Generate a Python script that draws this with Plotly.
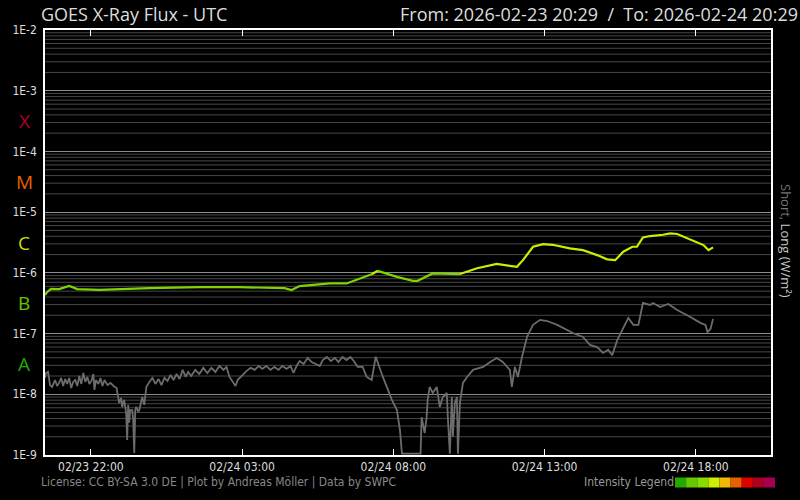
import math
import pandas as pd
import plotly.graph_objects as go

# ---------------- data ----------------
START = "2026-02-23 20:29"
END = "2026-02-24 20:29"

# Long channel (0.1-0.8 nm): minutes after START, flux W/m^2
long_minutes = [0, 4, 12, 28, 48, 64, 108, 207, 306, 386,
                475, 489, 505, 545, 565, 598, 630, 648, 660, 698,
                730, 739, 769, 823, 857, 896, 936, 948, 968, 988,
                1007, 1041, 1067, 1095, 1115, 1131, 1147, 1165, 1174, 1186,
                1200, 1226, 1240, 1254, 1280, 1306, 1316, 1325]
long_flux = [4.3e-7, 4.8e-7, 5.45e-7, 5.4e-7, 6.1e-7, 5.4e-7, 5.25e-7, 5.6e-7, 5.8e-7, 5.8e-7,
             5.6e-7, 5.2e-7, 6.05e-7, 6.5e-7, 6.7e-7, 6.7e-7, 8.5e-7, 9.5e-7, 1.08e-6, 8.6e-7,
             7.4e-7, 7.4e-7, 9.8e-7, 9.55e-7, 1.19e-6, 1.4e-6, 1.26e-6, 1.62e-6, 2.69e-6, 2.98e-6,
             2.9e-6, 2.53e-6, 2.37e-6, 1.96e-6, 1.67e-6, 1.62e-6, 2.23e-6, 2.69e-6, 2.69e-6, 3.84e-6,
             4.04e-6, 4.24e-6, 4.48e-6, 4.36e-6, 3.56e-6, 2.87e-6, 2.37e-6, 2.63e-6]

# Short channel (0.05-0.4 nm), in four stretches
short_minutes_a = [0, 2, 6, 10, 14, 20, 24, 28, 32, 36,
                   40, 44, 48, 52, 56, 60, 64, 68, 72, 76,
                   80, 84, 88, 92, 96, 98, 101, 106, 110, 114,
                   118, 124, 130, 136, 142]
short_flux_a = [1.86e-8, 2.24e-8, 2.33e-8, 1.42e-8, 1.32e-8, 1.72e-8, 1.37e-8, 1.54e-8, 1.86e-8, 1.37e-8,
                1.79e-8, 1.48e-8, 1.86e-8, 1.27e-8, 1.6e-8, 1.72e-8, 1.37e-8, 2.0e-8, 1.48e-8, 2.24e-8,
                1.6e-8, 1.93e-8, 1.48e-8, 1.66e-8, 2.16e-8, 1.18e-8, 1.72e-8, 1.48e-8, 1.86e-8, 1.37e-8,
                1.72e-8, 1.42e-8, 1.54e-8, 1.37e-8, 1.27e-8]

short_minutes_b = [147, 151, 153, 157, 161, 163, 165, 167, 169, 173,
                   175, 177, 179, 181, 185, 187, 191, 193, 197, 201]
short_flux_b = [7.2e-9, 8.7e-9, 6.2e-9, 8.1e-9, 4.9e-9, 1.77e-9, 6.7e-9, 3.4e-9, 5.5e-9, 5.5e-9,
                3.77e-9, 1.08e-9, 5.5e-9, 6.2e-9, 5.2e-9, 5.5e-9, 8.1e-9, 9.0e-9, 6.7e-9, 1.32e-8]

short_minutes_c = [207, 213, 219, 225, 231, 237, 243, 249, 255, 261,
                   267, 273, 279, 284, 290, 298, 306, 314, 322, 330,
                   338, 346, 354, 360, 366, 372, 378, 382, 386, 392,
                   400, 408, 416, 424, 431, 439, 447, 455, 463, 471,
                   479, 487, 493, 499, 505, 513, 521, 529, 537, 545,
                   551, 559, 567, 575, 582, 590, 598, 606, 614, 620]
short_flux_c = [1.6e-8, 1.86e-8, 1.48e-8, 1.79e-8, 1.42e-8, 1.86e-8, 1.66e-8, 2.08e-8, 1.72e-8, 2.16e-8,
                1.79e-8, 2.52e-8, 1.93e-8, 2.33e-8, 2.0e-8, 2.52e-8, 2.16e-8, 2.72e-8, 2.24e-8, 2.72e-8,
                2.33e-8, 2.93e-8, 2.52e-8, 2.82e-8, 1.93e-8, 1.6e-8, 1.37e-8, 1.72e-8, 1.86e-8, 2.16e-8,
                2.43e-8, 2.72e-8, 2.52e-8, 2.93e-8, 2.62e-8, 2.93e-8, 2.52e-8, 2.82e-8, 2.52e-8, 2.93e-8,
                2.62e-8, 2.93e-8, 2.24e-8, 2.93e-8, 3.53e-8, 3.16e-8, 3.96e-8, 3.4e-8, 3.16e-8, 2.93e-8,
                3.67e-8, 4.12e-8, 3.53e-8, 3.96e-8, 3.4e-8, 4.12e-8, 3.67e-8, 4.12e-8, 3.4e-8, 2.82e-8]

short_minutes_d = [630, 638, 648, 656, 670, 688, 698, 704, 708, 727,
                   745, 747, 749, 753, 757, 759, 763, 769, 777, 783,
                   789, 797, 799, 803, 807, 809, 813, 817, 819, 823,
                   829, 837, 849, 869, 883, 896, 908, 922, 926, 932,
                   938, 946, 956, 968, 982, 996, 1016, 1028, 1047, 1067,
                   1081, 1095, 1107, 1117, 1125, 1135, 1147, 1157, 1167, 1177,
                   1186, 1200, 1206, 1220, 1236, 1254, 1280, 1300, 1310, 1314,
                   1320, 1325]
short_flux_d = [2.82e-8, 1.93e-8, 1.72e-8, 4.16e-8, 1.95e-8, 8.1e-9, 5.5e-9, 2.6e-9, 1.05e-9, 1.05e-9,
                1.05e-9, 4.2e-9, 3.4e-9, 2.3e-9, 4.2e-9, 8.1e-9, 1.32e-8, 1.05e-8, 1.32e-8, 6.2e-9,
                9.0e-9, 1.05e-8, 4.2e-9, 1.05e-9, 9.0e-9, 2.0e-9, 7.2e-9, 9.0e-9, 1.05e-9, 7.2e-9,
                1.54e-8, 1.93e-8, 2.52e-8, 2.82e-8, 3.4e-8, 3.96e-8, 3.4e-8, 2.52e-8, 1.32e-8, 2.82e-8,
                1.93e-8, 4.1e-8, 8.8e-8, 1.39e-7, 1.68e-7, 1.61e-7, 1.39e-7, 1.24e-7, 1.02e-7, 8.8e-8,
                6.5e-8, 6.0e-8, 4.8e-8, 5.4e-8, 4.4e-8, 7.8e-8, 1.24e-7, 1.81e-7, 1.39e-7, 1.39e-7,
                3.19e-7, 2.96e-7, 3.19e-7, 2.74e-7, 3.07e-7, 2.45e-7, 1.88e-7, 1.5e-7, 1.39e-7, 1.06e-7,
                1.19e-7, 1.74e-7]

decade_vals = [1e-9, 1e-8, 1e-7, 1e-6, 1e-5, 1e-4, 1e-3, 1e-2]
decade_labels = ["1E-9", "1E-8", "1E-7", "1E-6", "1E-5", "1E-4", "1E-3", "1E-2"]
class_letters = ["A", "B", "C", "M", "X"]
class_log_mid = [-7.5, -6.5, -5.5, -4.5, -3.5]
class_colors = ["#22aa00", "#66c400", "#ccdd00", "#e86000", "#b0002a"]
legend_colors = ["#22aa00", "#66c800", "#88dd00", "#ccee00", "#f0b800",
                 "#e86000", "#e00000", "#b00020", "#a80050"]

# ---------------- build ----------------
t0 = pd.Timestamp(START)
short_pairs = (list(zip(short_minutes_a, short_flux_a)) + list(zip(short_minutes_b, short_flux_b))
               + list(zip(short_minutes_c, short_flux_c)) + list(zip(short_minutes_d, short_flux_d)))
short_t = [t0 + pd.Timedelta(minutes=m) for m, _ in short_pairs]
short_flux = [v for _, v in short_pairs]
long_t = [t0 + pd.Timedelta(minutes=m) for m in long_minutes]

W, H = 800, 500
L, R, T, B = 45, 29, 30, 45
PW, PH = W - L - R, H - T - B


def px(x):
    return (x - L) / PW


def py(y):
    return (H - B - y) / PH


fig = go.Figure()

# minor grid lines (one trace, gaps between lines)
gx, gy = [], []
for k in range(-9, -2):
    for m in range(2, 10):
        gx += [START, END, None]
        gy += [m * 10 ** k, m * 10 ** k, None]
fig.add_trace(go.Scatter(x=gx, y=gy, mode="lines", line=dict(color="#474747", width=1),
                         showlegend=False, hoverinfo="skip", connectgaps=False))

# short channel
fig.add_trace(go.Scatter(x=short_t, y=short_flux, mode="lines",
                         line=dict(color="#6c6c6c", width=1.8),
                         showlegend=False, hoverinfo="skip"))

# long channel, coloured by flare class
def col_for(v):
    return "#ccee00" if v >= 1e-6 else "#7fd400"

runs = []
cur_col = None
for i in range(len(long_flux) - 1):
    mid = math.sqrt(long_flux[i] * long_flux[i + 1])
    c = col_for(mid)
    if c != cur_col:
        runs.append([c, [i, i + 1]])
        cur_col = c
    else:
        runs[-1][1].append(i + 1)
for c, idx in runs:
    fig.add_trace(go.Scatter(x=[long_t[j] for j in idx], y=[long_flux[j] for j in idx],
                             mode="lines", line=dict(color=c, width=2.2),
                             showlegend=False, hoverinfo="skip"))

shapes = []
# intensity legend squares
sq_w = 100 / len(legend_colors)
for i, c in enumerate(legend_colors):
    shapes.append(dict(type="rect", xref="paper", yref="paper",
                       x0=px(675 + i * sq_w), x1=px(675 + (i + 1) * sq_w),
                       y0=py(487.5), y1=py(477.5), fillcolor=c, line=dict(width=0)))

cond = "DejaVu Sans Condensed, Liberation Sans Narrow, sans-serif"
annotations = [
    dict(text="GOES X-Ray Flux - UTC", xref="paper", yref="paper", x=px(39), y=py(14),
         xanchor="left", yanchor="middle", showarrow=False,
         font=dict(family="Open Sans, Noto Sans", size=18, color="#dddddd")),
    dict(text="From: 2026-02-23 20:29  /  To: 2026-02-24 20:29", xref="paper", yref="paper",
         x=px(800), y=py(14), xanchor="right", yanchor="middle", showarrow=False,
         font=dict(family="Open Sans, Noto Sans", size=18, color="#dddddd")),
    dict(text="License: CC BY-SA 3.0 DE | Plot by Andreas Möller | Data by SWPC",
         xref="paper", yref="paper", x=px(39), y=py(482), xanchor="left", yanchor="middle",
         showarrow=False, font=dict(family=cond, size=12, color="#888888")),
    dict(text="Intensity Legend", xref="paper", yref="paper", x=px(676), y=py(482),
         xanchor="right", yanchor="middle", showarrow=False,
         font=dict(family=cond, size=12, color="#999999")),
    dict(text='<span style="color:#777777">Short,</span> Long (W/m²)', xref="paper", yref="paper",
         x=px(786), y=py(241), textangle=90, xanchor="center", yanchor="middle", showarrow=False,
         font=dict(family="Open Sans, Noto Sans", size=13, color="#c8c8c8")),
]
for letter, ly, lc in zip(class_letters, class_log_mid, class_colors):
    annotations.append(dict(text=letter, xref="paper", yref="y", x=px(24), y=ly,
                            xanchor="center", yanchor="middle", showarrow=False,
                            font=dict(family="Open Sans, Noto Sans", size=19, color=lc)))

fig.update_layout(
    width=W, height=H,
    margin=dict(l=L, r=R, t=T, b=B, pad=0),
    paper_bgcolor="#000000", plot_bgcolor="#000000",
    shapes=shapes, annotations=annotations, showlegend=False,
    xaxis=dict(range=[START, END], type="date",
               tick0="2026-02-23 22:00", dtick=5 * 3600 * 1000, tickformat="%m/%d %H:%M",
               ticks="inside", ticklen=6, tickcolor="#ffffff", tickwidth=1,
               showgrid=False, zeroline=False,
               showline=True, linecolor="#ffffff", linewidth=1.5, mirror="ticks",
               tickfont=dict(family=cond, size=12, color="#dddddd")),
    yaxis=dict(type="log", range=[-9, -2], tickvals=decade_vals, ticktext=decade_labels,
               ticks="", showgrid=True, gridcolor="#8c8c8c", gridwidth=1, zeroline=False,
               showline=True, linecolor="#ffffff", linewidth=1.5, mirror=True,
               tickfont=dict(family=cond, size=12, color="#dddddd"), ticklabelstandoff=4),
)

fig.write_html("out.html", config={"displayModeBar": False},
               post_script="document.body.style.margin='0';document.body.style.overflow='hidden';"
                           "document.body.style.background='#000';")
